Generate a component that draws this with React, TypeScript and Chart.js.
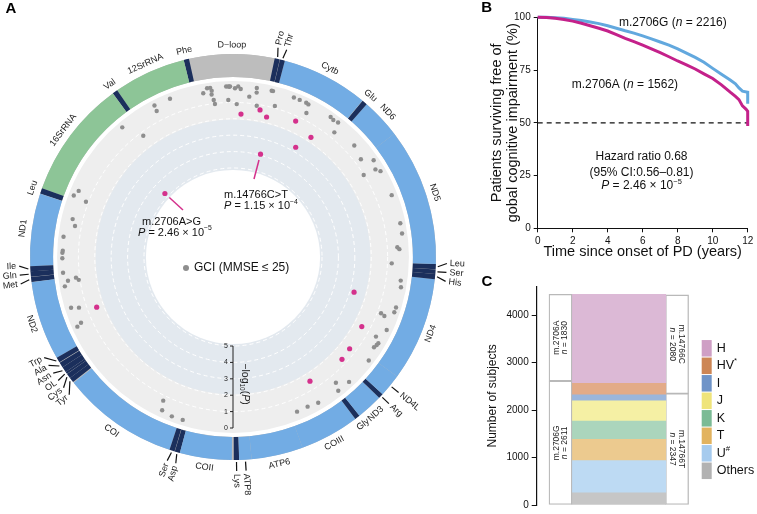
import React, { useEffect, useRef } from 'react';
import { Chart, registerables } from 'chart.js';

Chart.register(...registerables);

const FONT = '"Liberation Sans", Arial, Helvetica, sans-serif';
Chart.defaults.font.family = FONT;
Chart.defaults.color = '#111';

// ================= Panel A data (circular mitochondrial Manhattan plot) =================
const genomeLength = 16569;
const geneNames = ['D−loop', 'Phe', '12SrRNA', 'Val', '16SrRNA', 'Leu', 'ND1', 'Ile', 'Gln', 'Met', 'ND2', 'Trp', 'Ala', 'Asn', 'OL', 'Cys', 'Tyr', 'COI', 'Ser', 'Asp', 'COII', 'Lys', 'ATP8', 'ATP6', 'COIII', 'Gly', 'ND3', 'Arg', 'ND4L', 'ND4', 'His', 'Ser', 'Leu', 'ND5', 'ND6', 'Glu', 'Cytb', 'Thr', 'Pro'];
const geneStarts = [16024, 577, 648, 1602, 1671, 3230, 3307, 4263, 4329, 4402, 4470, 5512, 5587, 5657, 5730, 5761, 5826, 5904, 7446, 7518, 7586, 8295, 8366, 8527, 9207, 9991, 10059, 10405, 10470, 10767, 12138, 12207, 12266, 12337, 14149, 14674, 14747, 15888, 15956];
const geneEnds = [17145, 647, 1601, 1670, 3229, 3304, 4262, 4331, 4400, 4469, 5511, 5579, 5655, 5729, 5760, 5826, 5891, 7445, 7514, 7585, 8269, 8364, 8526, 9207, 9990, 10058, 10404, 10469, 10766, 12137, 12206, 12265, 12336, 14148, 14673, 14742, 15887, 15953, 16023];
const geneKinds = ['dloop', 'trna', 'rrna', 'trna', 'rrna', 'trna', 'prot', 'trna', 'trna', 'trna', 'prot', 'trna', 'trna', 'trna', 'trna', 'trna', 'trna', 'prot', 'trna', 'trna', 'prot', 'trna', 'prot', 'prot', 'prot', 'trna', 'prot', 'trna', 'prot', 'prot', 'trna', 'trna', 'trna', 'prot', 'prot', 'trna', 'prot', 'trna', 'trna'];
const geneLabelGroups = ['', '', '', '', '', '', '', 'IQM', 'IQM', 'IQM', '', 'WANC', 'WANC', 'WANC', 'WANC', 'WANC', 'WANC', '', 'SD', 'SD', '', 'KA', 'KA', '', '', '', '', 'RN', 'RN', '', 'HSL', 'HSL', 'HSL', '', '', '', '', 'TP', 'TP'];

// GCI association: position (bp) and -log10(P)
const gciPositions = [1864, 1680, 1261, 1270, 999, 474, 402, 354, 336, 345, 322, 310, 106, 72, 46, 57, 16488, 16538, 16448, 79, 16505, 16302, 16192, 16200, 15966, 15944, 15856, 16159, 15607, 15510, 15400, 15359, 15326, 14963, 14903, 14820, 14769, 14387, 14148, 14015, 13881, 13817, 13904, 13407, 12951, 12790, 12583, 12551, 12321, 12058, 11957, 11635, 11557, 11469, 11446, 11257, 11087, 11014, 10977, 10926, 10710, 10259, 10093, 10043, 9679, 9504, 9320, 7092, 7143, 7318, 7495, 3171, 3075, 3194, 3530, 3631, 3829, 4045, 4078, 4161, 4386, 4520, 4487, 4530, 4598, 4943, 4980, 5219, 5252];
const gciLogP = [0.03, 1.23, 0.02, 0.38, 0.04, 0.28, 0.02, 0.02, 0.2, 0.43, 0.78, 1.03, 0.02, 0.02, 0.02, 0.04, 0.02, 0.14, 0.17, 0.85, 1.1, 0.6, 0.3, 0.02, 0.02, 0.02, 0.87, 1.09, 0.02, 0.02, 0.02, 0.05, 0.57, 0.02, 0.07, 0.02, 0.63, 0.38, 0.61, 0.02, 0.23, 0.02, 1.02, 0.04, 0.02, 0.02, 0.39, 0.27, 0.74, 0.1, 0.02, 0.02, 0.03, 0.77, 0.52, 0.05, 0.45, 0.12, 0.15, 0.22, 0.02, 0.03, 0.52, 0.05, 0.13, 0.23, 0.22, 0.69, 0.13, 0.02, 0.03, 0.02, 0.19, 0.85, 0.38, 0.61, 0.02, 0.04, 0.02, 0.02, 0.02, 0.26, 0.77, 0.92, 0.02, 0.08, 0.54, 0.33, 0.03];
const sigPositions = [16422, 16090, 15948, 15430, 15046, 15200, 15879, 2163, 5072, 11682, 11120, 10669, 10438, 9748];
const sigLogP = [1.7, 1.31, 1.65, 1.3, 1.72, 2.72, 3.94, 4.75, 1.57, 2.74, 1.5, 1.38, 1.31, 1.52];
const annotPointIndex = [6, 7];
const annotVariant = ['m.14766C>T', 'm.2706A>G'];
const annotPMant = ['1.15', '2.46'];
const annotPExp = ['4', '5'];
const logPTicks = [0, 1, 2, 3, 4, 5];
const RADIAL_MAX = 10.43;

// ================= Panel B data (Kaplan–Meier) =================
const kmGroupNames = ['m.2706G', 'm.2706A'];
const kmGroupN = [2216, 1562];
const kmTimeG = [0, 0.5, 1, 1.5, 2, 2.5, 3, 3.5, 4, 4.5, 5, 5.5, 6, 6.5, 7, 7.5, 8, 8.5, 9, 9.5, 10, 10.5, 11, 11.3, 11.5, 11.7, 12, 12];
const kmSurvG = [100, 100, 99.8, 99.5, 99, 98.5, 97.8, 97, 96, 94.8, 93.6, 92.5, 91.2, 89.8, 88.3, 86.8, 85, 83, 81, 78.7, 75.8, 73, 70.3, 68.5, 66.5, 65, 64.5, 59];
const kmTimeA = [0, 0.5, 1, 1.5, 2, 2.5, 3, 3.5, 4, 4.5, 5, 5.5, 6, 6.5, 7, 7.5, 8, 8.5, 9, 9.5, 10, 10.5, 11, 11.3, 11.5, 11.7, 11.9, 12, 12];
const kmSurvA = [100, 99.9, 99.5, 99, 98.2, 97.2, 96, 94.8, 93.5, 91.8, 90, 88.5, 86.8, 85, 83.2, 81.3, 79.3, 77.5, 75.5, 73.2, 71, 68, 64.5, 62.5, 61, 58, 56.5, 55.5, 48.5];
const kmXTicksStep = 2;
const kmYTicksStep = 25;
const hazardRatio = '0.68';
const hazardCI = ['0.56', '0.81'];
const hazardPMant = '2.46';
const hazardPExp = '5';

// ================= Panel C data (haplogroups) =================
const haploNames = ['Others', 'U#', 'T', 'K', 'J', 'I', 'HV*', 'H'];
const haploCounts = [255, 680, 450, 382, 428, 125, 243, 1878];
const haploBarColors = ['#c6c6c6', '#bddaf3', '#ecca8f', '#abd5bc', '#f5f0a4', '#9bb6dc', '#e3ab88', '#dcb9d6'];
const haploLegendColors = ['#b2b2b2', '#a6cbee', '#e2b35f', '#7bbb95', '#efe47a', '#6f94c8', '#cd8655', '#cf9fc5'];
const allele2706Names = ['m.2706G', 'm.2706A'];
const allele2706Counts = [2611, 1830];
const allele14766Names = ['m.14766T', 'm.14766C'];
const allele14766Counts = [2347, 2080];
const cYTicks = [0, 1000, 2000, 3000, 4000];

// ================= helpers =================
type Run = { text: string; italic?: boolean; script?: 'sup' | 'sub'; bold?: boolean };
function drawRuns(ctx: CanvasRenderingContext2D, runs: Run[], x: number, y: number, size: number, align: 'left' | 'center' | 'right' = 'left', color = '#111') {
  const fonts = runs.map((r) => `${r.italic ? 'italic ' : ''}${r.bold ? 'bold ' : ''}${r.script ? size * 0.62 : size}px ${FONT}`);
  const widths = runs.map((r, i) => {
    ctx.font = fonts[i];
    return ctx.measureText(r.text).width;
  });
  const total = widths.reduce((a, b) => a + b, 0);
  let px = align === 'left' ? x : align === 'center' ? x - total / 2 : x - total;
  ctx.fillStyle = color;
  ctx.textAlign = 'left';
  ctx.textBaseline = 'middle';
  runs.forEach((r, i) => {
    ctx.font = fonts[i];
    const dy = r.script === 'sup' ? -size * 0.36 : r.script === 'sub' ? size * 0.28 : 0;
    ctx.fillText(r.text, px, y + dy);
    px += widths[i];
  });
}
const pRuns = (mant: string, exp: string): Run[] => [
  { text: 'P', italic: true },
  { text: ` = ${mant} × 10` },
  { text: `−${exp}`, script: 'sup' },
];

const D2R = Math.PI / 180;
const idxOf = (p: number) => (((genomeLength - Math.round(p)) % genomeLength) + genomeLength) % genomeLength;
const phiOf = (p: number) => {
  const a = (-p / genomeLength) * 360;
  return ((((a + 180) % 360) + 360) % 360) - 180;
};
const thetaOf = (p: number) => -Math.PI / 2 - (2 * Math.PI * p) / genomeLength;
const KIND_COLORS: Record<string, string> = { dloop: '#bdbdbd', rrna: '#8dc597', trna: '#1b2f5c', prot: '#72ace4' };

const toSeries = (pos: number[], val: number[]) => {
  const arr: (number | null)[] = new Array(genomeLength).fill(null);
  pos.forEach((p, k) => {
    arr[idxOf(p)] = val[k];
  });
  return arr;
};

// ================= Panel A plugin =================
const mitoPlugin = {
  id: 'mito',
  beforeDraw(chart: any) {
    const s = chart.scales.r;
    const ctx = chart.ctx as CanvasRenderingContext2D;
    const cx = s.xCenter;
    const cy = s.yCenter;
    const disc = (r: number, c: string) => {
      ctx.beginPath();
      ctx.arc(cx, cy, r, 0, Math.PI * 2);
      ctx.fillStyle = c;
      ctx.fill();
    };
    ctx.save();
    disc(s.getDistanceFromCenterForValue(-0.3), '#eeeeee');
    disc(s.getDistanceFromCenterForValue(2.05), '#e3e9ef');
    disc(s.getDistanceFromCenterForValue(5.12), '#ffffff');
    ctx.restore();
  },
  afterDatasetsDraw(chart: any) {
    const s = chart.scales.r;
    const ctx = chart.ctx as CanvasRenderingContext2D;
    const cx = s.xCenter;
    const cy = s.yCenter;
    const rIn = s.drawingArea + 9;
    const rOut = s.drawingArea + 32;
    ctx.save();
    const seg = (p1: number, p2: number, color: string) => {
      const a0 = thetaOf(p1);
      const a1 = thetaOf(p2);
      ctx.beginPath();
      ctx.arc(cx, cy, rOut, a0, a1, true);
      ctx.arc(cx, cy, rIn, a1, a0, false);
      ctx.closePath();
      ctx.fillStyle = color;
      ctx.fill();
    };
    seg(0, genomeLength, KIND_COLORS.dloop);
    geneNames.forEach((_, i) => {
      const kind = geneKinds[i];
      const s0 = geneStarts[i] - (kind === 'trna' ? 0 : 0.5);
      const s1 = geneEnds[i] + (kind === 'trna' ? 0 : 0.5);
      seg(s0, s1, KIND_COLORS[kind]);
    });
    // tangential labels
    const rLab = rOut + 9;
    ctx.fillStyle = '#1a1a1a';
    ctx.font = `9px ${FONT}`;
    ctx.textAlign = 'center';
    ctx.textBaseline = 'middle';
    geneNames.forEach((name, i) => {
      if (geneLabelGroups[i]) return;
      const f = phiOf((geneStarts[i] + geneEnds[i]) / 2);
      const rad = f * D2R;
      const x = cx + rLab * Math.sin(rad);
      const y = cy - rLab * Math.cos(rad);
      ctx.save();
      ctx.translate(x, y);
      ctx.rotate(Math.abs(f) <= 90 ? rad : rad + Math.PI);
      ctx.fillText(name, 0, 0);
      ctx.restore();
    });
    // radial labels with leader lines
    const GAP = 2.4;
    const groups: Record<string, number[]> = {};
    geneLabelGroups.forEach((g, i) => {
      if (g) (groups[g] = groups[g] || []).push(i);
    });
    const r1 = rOut + 2;
    const r2 = rOut + 11;
    const r3 = rOut + 14;
    ctx.strokeStyle = '#111';
    ctx.lineWidth = 1.2;
    Object.values(groups).forEach((idxs) => {
      const act = idxs.map((i) => phiOf((geneStarts[i] + geneEnds[i]) / 2));
      const order = idxs.map((_, k) => k).sort((a, b) => act[a] - act[b]);
      const sorted = order.map((k) => act[k]);
      let disp = sorted.slice();
      const need = sorted.some((v, k) => k > 0 && v - sorted[k - 1] < GAP);
      if (need) {
        const mean = sorted.reduce((a, b) => a + b, 0) / sorted.length;
        disp = sorted.map((_, k) => mean + (k - (sorted.length - 1) / 2) * GAP);
      }
      order.forEach((k, j) => {
        const i = idxs[k];
        const fa = act[k] * D2R;
        const fd = disp[j] * D2R;
        ctx.beginPath();
        ctx.moveTo(cx + r1 * Math.sin(fa), cy - r1 * Math.cos(fa));
        ctx.lineTo(cx + r2 * Math.sin(fd), cy - r2 * Math.cos(fd));
        ctx.stroke();
        const right = disp[j] > 0;
        ctx.save();
        ctx.translate(cx + r3 * Math.sin(fd), cy - r3 * Math.cos(fd));
        ctx.rotate(right ? fd - Math.PI / 2 : fd + Math.PI / 2);
        ctx.font = `9px ${FONT}`;
        ctx.fillStyle = '#1a1a1a';
        ctx.textAlign = right ? 'left' : 'right';
        ctx.textBaseline = 'middle';
        ctx.fillText(geneNames[i], 0, 0);
        ctx.restore();
      });
    });
    // radial -log10(P) axis
    const rr = (v: number) => s.getDistanceFromCenterForValue(v);
    ctx.strokeStyle = '#222';
    ctx.lineWidth = 1;
    ctx.beginPath();
    ctx.moveTo(cx, cy + rr(0));
    ctx.lineTo(cx, cy + rr(logPTicks[logPTicks.length - 1]));
    logPTicks.forEach((v) => {
      ctx.moveTo(cx - 3, cy + rr(v));
      ctx.lineTo(cx, cy + rr(v));
    });
    ctx.stroke();
    ctx.fillStyle = '#222';
    ctx.font = `7px ${FONT}`;
    ctx.textAlign = 'right';
    ctx.textBaseline = 'middle';
    logPTicks.forEach((v) => ctx.fillText(String(v), cx - 5, cy + rr(v)));
    ctx.save();
    ctx.translate(cx + 12, cy + (rr(0) + rr(5)) / 2 - 3);
    ctx.rotate(Math.PI / 2);
    drawRuns(ctx, [{ text: '−log' }, { text: '10', script: 'sub' }, { text: '(' }, { text: 'P', italic: true }, { text: ')' }], 0, 0, 10.5, 'center', '#222');
    ctx.restore();
    // legend in the centre
    ctx.beginPath();
    ctx.arc(cx - 47, cy + 11, 3, 0, Math.PI * 2);
    ctx.fillStyle = '#8e8e8e';
    ctx.fill();
    drawRuns(ctx, [{ text: 'GCI (MMSE ≤ 25)' }], cx - 39, cy + 11, 12, 'left');
    // annotations of the lead variants
    const meta = chart.getDatasetMeta(0);
    const lineEnds = [
      [cx + 21, cy - 78],
      [cx - 50, cy - 47],
    ];
    const textPos = [
      [cx - 9, cy - 62, cx - 9, cy - 51],
      [cx - 91, cy - 35, cx - 95, cy - 24.5],
    ];
    annotPointIndex.forEach((k, j) => {
      const el = meta.data[idxOf(sigPositions[k])];
      if (!el) return;
      const [ex, ey] = lineEnds[j];
      const dx = ex - el.x;
      const dy = ey - el.y;
      const len = Math.hypot(dx, dy);
      ctx.strokeStyle = '#d4318c';
      ctx.lineWidth = 1.5;
      ctx.beginPath();
      ctx.moveTo(el.x + (dx / len) * 6, el.y + (dy / len) * 6);
      ctx.lineTo(ex, ey);
      ctx.stroke();
      const t = textPos[j];
      drawRuns(ctx, [{ text: annotVariant[j] }], t[0], t[1], 11, 'left');
      drawRuns(ctx, pRuns(annotPMant[j], annotPExp[j]), t[2], t[3], 11, 'left');
    });
    drawRuns(ctx, [{ text: 'A', bold: true }], 11, 9, 15, 'center', '#000');
    ctx.restore();
  },
};

function buildConfigA() {
  const labels = Array.from({ length: genomeLength }, (_, i) => String((genomeLength - i) % genomeLength));
  return {
    type: 'radar',
    data: {
      labels,
      datasets: [
        { label: 'significant', data: toSeries(sigPositions, sigLogP), showLine: false, fill: false, clip: false, pointRadius: 2.6, pointBorderWidth: 0, pointBackgroundColor: '#d4318c', borderWidth: 0 },
        { label: 'GCI (MMSE ≤ 25)', data: toSeries(gciPositions, gciLogP), showLine: false, fill: false, clip: false, pointRadius: 2.2, pointBorderWidth: 0, pointBackgroundColor: '#8e8e8e', borderWidth: 0 },
      ],
    },
    options: {
      animation: false,
      responsive: false,
      events: [],
      layout: { padding: { left: 62, right: 66, top: 86, bottom: 86 } },
      plugins: { legend: { display: false }, tooltip: { enabled: false } },
      elements: { point: { hoverRadius: 0 } },
      scales: {
        r: {
          min: 0,
          max: RADIAL_MAX,
          reverse: true,
          startAngle: 0,
          ticks: { display: false },
          afterBuildTicks: (sc: any) => {
            sc.ticks = logPTicks.map((v) => ({ value: v }));
          },
          grid: { circular: true, color: 'rgba(255,255,255,0.95)', lineWidth: 1 },
          border: { dash: [4, 3] },
          angleLines: { display: false },
          pointLabels: { display: false },
        },
      },
    },
    plugins: [mitoPlugin],
  };
}

// ================= Panel B =================
const kmPlugin = {
  id: 'kmText',
  afterDraw(chart: any) {
    const ctx = chart.ctx as CanvasRenderingContext2D;
    ctx.save();
    drawRuns(ctx, [{ text: `${kmGroupNames[0]} (` }, { text: 'n', italic: true }, { text: ` = ${kmGroupN[0]})` }], 149, 23, 12, 'left');
    drawRuns(ctx, [{ text: `${kmGroupNames[1]} (` }, { text: 'n', italic: true }, { text: ` = ${kmGroupN[1]})` }], 101.7, 85, 12, 'left');
    drawRuns(ctx, [{ text: `Hazard ratio ${hazardRatio}` }], 171.5, 156.7, 12, 'center');
    drawRuns(ctx, [{ text: `(95% CI:${hazardCI[0]}–${hazardCI[1]})` }], 171.5, 172.3, 12, 'center');
    drawRuns(ctx, pRuns(hazardPMant, hazardPExp), 171.5, 186, 12, 'center');
    drawRuns(ctx, [{ text: 'B', bold: true }], 16.7, 8, 15, 'center', '#000');
    ctx.restore();
  },
};

function buildConfigB() {
  return {
    type: 'line',
    data: {
      datasets: [
        { label: kmGroupNames[1], data: kmTimeA.map((t, i) => ({ x: t, y: kmSurvA[i] })), borderColor: '#c4218a', borderWidth: 3, pointRadius: 0, tension: 0, clip: false, fill: false },
        { label: kmGroupNames[0], data: kmTimeG.map((t, i) => ({ x: t, y: kmSurvG[i] })), borderColor: '#62a8de', borderWidth: 3, pointRadius: 0, tension: 0, clip: false, fill: false },
        { label: 'median', data: [{ x: 0, y: 50 }, { x: 12, y: 50 }], borderColor: '#111', borderWidth: 1.3, borderDash: [5, 4], pointRadius: 0, fill: false },
      ],
    },
    options: {
      animation: false,
      responsive: false,
      events: [],
      layout: { padding: { left: 0, right: 9.3, top: 17.3, bottom: 0 } },
      plugins: { legend: { display: false }, tooltip: { enabled: false } },
      scales: {
        x: {
          type: 'linear',
          min: 0,
          max: 12,
          ticks: { stepSize: kmXTicksStep, font: { size: 10 }, color: '#111', padding: 3, maxRotation: 0, autoSkip: false },
          grid: { drawOnChartArea: false, tickLength: 4, color: '#111' },
          border: { color: '#111', width: 1 },
          title: { display: true, text: 'Time since onset of PD (years)', font: { size: 14.5, lineHeight: 1.15 }, color: '#111', padding: { top: 0, bottom: 1.7 } },
          afterFit: (sc: any) => {
            sc.height = 33.7;
          },
        },
        y: {
          min: 0,
          max: 100,
          ticks: { stepSize: kmYTicksStep, font: { size: 10 }, color: '#111', padding: 3 },
          grid: { drawOnChartArea: false, tickLength: 4, color: '#111' },
          border: { color: '#111', width: 1 },
          title: { display: true, text: ['Patients surviving free of', 'gobal cognitive impairment (%)'], font: { size: 14.5, lineHeight: 1.15 }, color: '#111', padding: { top: 18.4, bottom: 0 } },
          afterFit: (sc: any) => {
            sc.width = 67.7;
          },
        },
      },
    },
    plugins: [kmPlugin],
  };
}

// ================= Panel C =================
const C_X_MIN = 0.592;
const C_X_MAX = 3.3;
const C_PX_PER_UNIT = 58.3;
const C_AXIS_W = 66.7;
const C_CANVAS_W = 287;

const haploPlugin = {
  id: 'haplo',
  afterDatasetsDraw(chart: any) {
    const ctx = chart.ctx as CanvasRenderingContext2D;
    ctx.save();
    chart.data.datasets.forEach((ds: any, di: number) => {
      if (!ds.boxSide) return;
      const el = chart.getDatasetMeta(di).data[0];
      if (!el) return;
      const yc = (el.y + el.base) / 2;
      ctx.save();
      ctx.translate(el.x, yc);
      ctx.rotate(ds.boxSide === 'left' ? -Math.PI / 2 : Math.PI / 2);
      drawRuns(ctx, [{ text: ds.label }], 0, -4, 8.5, 'center', '#222');
      drawRuns(ctx, [{ text: 'n', italic: true }, { text: ` = ${ds.count}` }], 0, 4.3, 8.5, 'center', '#222');
      ctx.restore();
    });
    ctx.restore();
  },
  afterDraw(chart: any) {
    const ctx = chart.ctx as CanvasRenderingContext2D;
    ctx.save();
    const n = haploNames.length;
    for (let j = 0; j < n; j++) {
      const i = n - 1 - j;
      const yc = 86.3 + j * 17.5;
      ctx.fillStyle = haploLegendColors[i];
      ctx.fillRect(231.7, yc - 8.25, 10, 16.5);
      const m = haploNames[i].match(/^(.*?)([*#])$/);
      drawRuns(ctx, m ? [{ text: m[1] }, { text: m[2], script: 'sup' }] : [{ text: haploNames[i] }], 246.7, yc, 12.5, 'left');
    }
    drawRuns(ctx, [{ text: 'C', bold: true }], 17, 19.7, 15, 'center', '#000');
    ctx.restore();
  },
};

function buildConfigC() {
  const boxStyle = { backgroundColor: '#ffffff', borderColor: '#b9b9b9', borderWidth: 1.3, borderSkipped: false, barThickness: 23 };
  const datasets: any[] = [
    ...allele2706Names.map((name, i) => ({ label: name, data: [{ x: 1, y: allele2706Counts[i] }], boxSide: 'left', count: allele2706Counts[i], ...boxStyle })),
    ...haploNames.map((name, i) => ({ label: name, data: [{ x: 2, y: haploCounts[i] }], backgroundColor: haploBarColors[i], borderWidth: 0, barThickness: 94 })),
    ...allele14766Names.map((name, i) => ({ label: name, data: [{ x: 3, y: allele14766Counts[i] }], boxSide: 'right', count: allele14766Counts[i], ...boxStyle })),
  ];
  const chartW = (C_X_MAX - C_X_MIN) * C_PX_PER_UNIT;
  return {
    type: 'bar',
    data: { datasets },
    options: {
      animation: false,
      responsive: false,
      events: [],
      layout: { padding: { left: 0, right: C_CANVAS_W - C_AXIS_W - chartW, top: 24.7, bottom: 5.7 } },
      plugins: { legend: { display: false }, tooltip: { enabled: false } },
      scales: {
        x: { type: 'linear', min: C_X_MIN, max: C_X_MAX, display: false, stacked: true, offset: false },
        y: {
          stacked: true,
          min: 0,
          max: 4600,
          afterBuildTicks: (sc: any) => {
            sc.ticks = cYTicks.map((v) => ({ value: v }));
          },
          ticks: { font: { size: 10 }, color: '#111', padding: 3, callback: (v: any) => String(v) },
          grid: { drawOnChartArea: false, tickLength: 5, color: '#111' },
          border: { color: '#111', width: 1.2 },
          title: { display: true, text: 'Number of subjects', font: { size: 12, lineHeight: 1.2 }, color: '#111', padding: { top: 15.8, bottom: 0 } },
          afterFit: (sc: any) => {
            sc.width = C_AXIS_W;
          },
        },
      },
    },
    plugins: [haploPlugin],
  };
}

export default function App() {
  const refA = useRef<HTMLCanvasElement>(null);
  const refB = useRef<HTMLCanvasElement>(null);
  const refC = useRef<HTMLCanvasElement>(null);
  useEffect(() => {
    const charts = [
      new Chart(refA.current as HTMLCanvasElement, buildConfigA() as any),
      new Chart(refB.current as HTMLCanvasElement, buildConfigB() as any),
      new Chart(refC.current as HTMLCanvasElement, buildConfigC() as any),
    ];
    return () => charts.forEach((c) => c.destroy());
  }, []);
  return (
    <div style={{ position: 'absolute', left: 0, top: 0, width: 757, height: 514, background: '#ffffff', overflow: 'hidden' }}>
      <canvas ref={refA} width={470} height={514} style={{ position: 'absolute', left: 0, top: 0, width: 470, height: 514 }} />
      <canvas ref={refB} width={287} height={262} style={{ position: 'absolute', left: 470, top: 0, width: 287, height: 262 }} />
      <canvas ref={refC} width={287} height={252} style={{ position: 'absolute', left: 470, top: 262, width: 287, height: 252 }} />
    </div>
  );
}
